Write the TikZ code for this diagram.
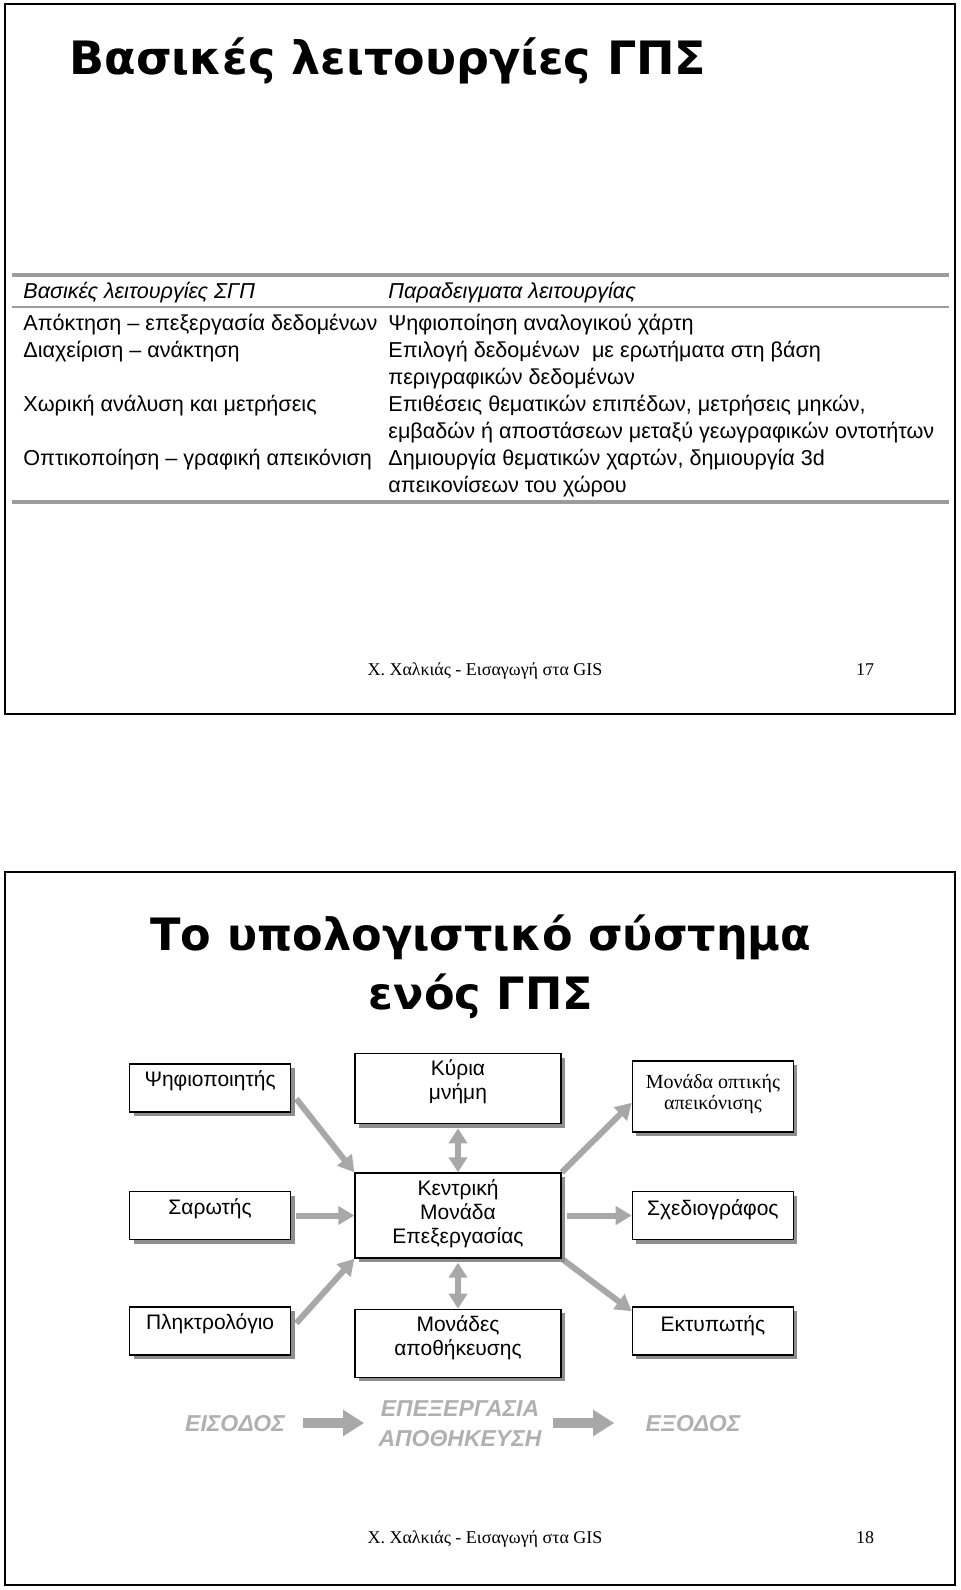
\documentclass[tikz,border=0pt]{standalone}
\usepackage{fontspec}
\setmainfont{Liberation Sans}
\newfontfamily\policeSerif{Liberation Serif}
\newfontfamily\policeTitre{DejaVu Sans}
\usepackage{tikz}
\usetikzlibrary{positioning,arrows.meta,shadows,backgrounds,calc}
\definecolor{grisFleche}{HTML}{A8A8A8}
\definecolor{grisRegle}{HTML}{9C9C9C}
\definecolor{grisOmbre}{HTML}{8E8E8E}
\definecolor{grisLegende}{HTML}{B0B0B0}
\tikzset{
  cadre/.style={draw=black, line width=1.25pt},
  titre/.style={font=\policeTitre\bfseries\fontsize{23}{29.5}\selectfont, inner sep=0pt},
  cellule/.style={anchor=base west, inner sep=0pt, font=\fontsize{10.8}{12}\selectfont},
  enTete/.style={cellule, font=\itshape\fontsize{10.8}{12}\selectfont},
  regleEpaisse/.style={draw=grisRegle, line width=1.6pt},
  regleFine/.style={draw=grisRegle, line width=0.8pt},
  pied/.style={anchor=base, inner sep=0pt, font=\policeSerif\fontsize{9}{11}\selectfont},
  bloc/.style={
    rectangle, draw=black, line width=0.7pt, fill=white,
    minimum width=80.5pt, minimum height=24pt, inner sep=0pt,
    drop shadow={shadow xshift=2pt, shadow yshift=-2pt, fill=grisOmbre, opacity=1}},
  blocLarge/.style={bloc, minimum width=103pt},
  texteBloc/.style={align=center, inner sep=0pt, text height=7.5pt,
    font=\fontsize{10.5}{12}\selectfont},
  texteSerif/.style={texteBloc, text height=6.6pt,
    font=\policeSerif\fontsize{10}{10.5}\selectfont},
  fleche/.style={-{Triangle[length=8pt,width=9pt]}, draw=grisFleche, line width=3pt},
  flecheDouble/.style={{Triangle[length=7.5pt,width=9pt]}-{Triangle[length=7.5pt,width=9pt]},
    draw=grisFleche, line width=3pt, shorten <=2pt},
  legende/.style={align=center, inner sep=0pt, text height=8.2pt, text depth=0pt,
    text=grisLegende, font=\bfseries\itshape\fontsize{11.5}{15}\selectfont},
  flecheBloc/.style={-{Triangle[length=10.5pt,width=12.5pt]}, draw=grisFleche, line width=5pt}
}

\begin{document}
\begin{tikzpicture}[x=0.5pt, y=-0.5pt]
  \useasboundingbox (0,0) rectangle (960,1590);

  % --- Diapositive 17 : fonctions de base
  \draw[cadre] (5,4) rectangle (955,714);
  \node[titre, anchor=base west] (t1) at (69,74) {Βασικές λειτουργίες ΓΠΣ};

  \draw[regleEpaisse] (12,275) -- (949,275);
  \draw[regleFine] (12,307) -- (949,307);
  \draw[regleEpaisse] (12,502) -- (949,502);

  \node[enTete] (g0) at (23,298) {Βασικές λειτουργίες ΣΓΠ};
  \node[enTete] (d0) at (388,298) {Παραδειγματα λειτουργίας};

  \node[cellule] (g1) at (23,330) {Απόκτηση – επεξεργασία δεδομένων};
  \node[cellule] (g2) at (23,357) {Διαχείριση – ανάκτηση};
  \node[cellule] (g3) at (23,411) {Χωρική ανάλυση και μετρήσεις};
  \node[cellule] (g4) at (23,465) {Οπτικοποίηση – γραφική απεικόνιση};

  \foreach \n/\y/\texte in {
      1/330/{Ψηφιοποίηση αναλογικού χάρτη},
      2/357/{Επιλογή δεδομένων \ με ερωτήματα στη βάση},
      3/384/{περιγραφικών δεδομένων},
      4/411/{Επιθέσεις θεματικών επιπέδων, μετρήσεις μηκών,},
      5/438/{εμβαδών ή αποστάσεων μεταξύ γεωγραφικών οντοτήτων},
      6/465/{Δημιουργία θεματικών χαρτών, δημιουργία 3d},
      7/492/{απεικονίσεων του χώρου}}
    \node[cellule] (d\n) at (388,\y) {\texte};

  \node[pied] (p1) at (485,675) {Χ. Χαλκιάς - Εισαγωγή στα GIS};
  \node[pied] (n1) at (865,675) {17};

  % --- Diapositive 18 : le systeme informatique
  \draw[cadre] (5,872) rectangle (955,1585);
  \node[titre, align=center, anchor=base, font=\policeTitre\bfseries\fontsize{22.3}{29.5}\selectfont]
    (t2) at (481,1009) {Το υπολογιστικό σύστημα\\ενός ΓΠΣ};

  % --- Colonne centrale
  \node[blocLarge, minimum height=42.5pt] (u) at (458,1215.5) {};
  \node[blocLarge, minimum height=35pt, above=24pt of u] (m1) {};
  \node[blocLarge, minimum height=34pt, below=25pt of u] (s1) {};

  % --- Entrees
  \node[bloc, left=31.5pt of u] (e2) {};
  \node[bloc, above=39pt of e2] (e1) {};
  \node[bloc, below=33pt of e2] (e3) {};

  % --- Sorties
  \node[bloc, right=35pt of u] (o2) {};
  \node[bloc, minimum height=35.5pt, above=29pt of o2] (o1) {};
  \node[bloc, below=33pt of o2] (o3) {};

  % --- Textes des blocs
  \node[texteBloc, text height=31.5pt, below=3.9pt of u.north] (ut) {Κεντρική\\Μονάδα\\Επεξεργασίας};
  \node[texteBloc, text height=19.5pt, below=3.5pt of m1.north] (m1t) {Κύρια\\μνήμη};
  \node[texteBloc, text height=19.5pt, below=3.9pt of s1.north] (s1t) {Μονάδες\\αποθήκευσης};
  \node[texteBloc, below=3.9pt of e1.north] (e1t) {Ψηφιοποιητής};
  \node[texteBloc, below=3.9pt of e2.north] (e2t) {Σαρωτής};
  \node[texteBloc, below=3.9pt of e3.north] (e3t) {Πληκτρολόγιο};
  \node[texteSerif, text height=17.1pt, below=7pt of o1.north] (o1t) {Μονάδα οπτικής\\απεικόνισης};
  \node[texteBloc, below=4.8pt of o2.north] (o2t) {Σχεδιογράφος};
  \node[texteBloc, below=5pt of o3.north] (o3t) {Εκτυπωτής};

  % --- Liaisons
  \begin{scope}[on background layer]
    \draw[fleche] ([shift={(5,-14)}]e1.south east) -- (u.north west);
    \draw[fleche] ([xshift=2.5pt]e2.east) -- (e2.east -| u.west);
    \draw[fleche] ([shift={(5,17)}]e3.north east) -- (u.south west);
    \draw[flecheDouble] (m1.south) -- (u.north);
    \draw[flecheDouble] (u.south) -- (s1.north);
    \draw[fleche] (u.north east) -- ([shift={(0,-30)}]o1.south west);
    \draw[fleche] ([xshift=2.5pt]u.east |- o2.west) -- (o2.west);
    \draw[fleche] (u.south east) -- ([shift={(0,5)}]o3.north west);
  \end{scope}

  % --- Legende
  \node[legende] (l1) at (235,1423) {ΕΙΣΟΔΟΣ};
  \node[legende, text height=23.2pt] (l2) at (460,1423) {ΕΠΕΞΕΡΓΑΣΙΑ\\ΑΠΟΘΗΚΕΥΣΗ};
  \node[legende] (l3) at (693,1423) {ΕΞΟΔΟΣ};
  \draw[flecheBloc, shorten <=9pt, shorten >=7pt] (l1.east) -- (l1.east -| l2.west);
  \draw[flecheBloc, shorten <=5.5pt, shorten >=15.5pt] (l1.east -| l2.east) -- (l3.west);

  \node[pied] (p2) at (485,1543) {Χ. Χαλκιάς - Εισαγωγή στα GIS};
  \node[pied] (n2) at (865,1543) {18};

\end{tikzpicture}
\end{document}
